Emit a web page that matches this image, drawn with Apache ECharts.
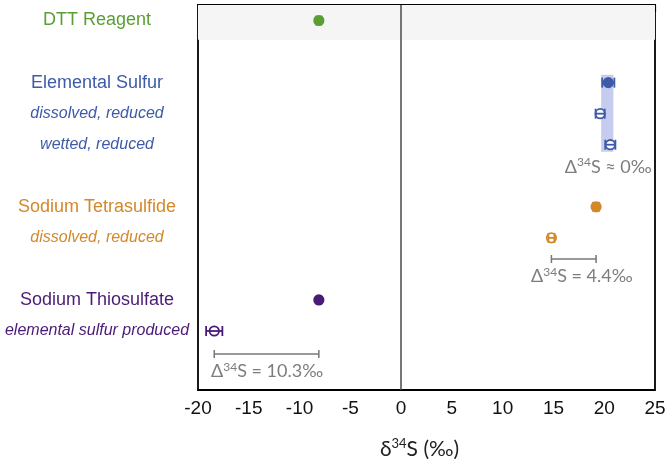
<!DOCTYPE html>
<html><head><meta charset="utf-8">
<script src="https://cdn.jsdelivr.net/npm/echarts@6/dist/echarts.min.js"></script>
<style>html,body{margin:0;padding:0;background:#fff}#c{width:668px;height:459px}</style>
</head><body><div id="c"></div>
<script>
// ---- data ----
const rowLabels = ['DTT Reagent','Elemental Sulfur','dissolved, reduced','wetted, reduced','Sodium Tetrasulfide','dissolved, reduced','Sodium Thiosulfate','elemental sulfur produced'];
const rowPos = [0.5, 2.5, 3.5, 4.5, 6.5, 7.5, 9.5, 10.5];
const rowIsSub = [0, 0, 1, 1, 0, 1, 0, 1];
const rowGroup = [0, 1, 1, 1, 2, 2, 3, 3];
const d34S = [-8.1, 20.4, 19.6, 20.6, 19.2, 14.8, -8.1, -18.4];
const d34SErr = [0.25, 0.6, 0.45, 0.5, 0.3, 0.3, 0.2, 0.8];
const markerFilled = [1, 1, 0, 0, 1, 0, 1, 0];
const groupColors = ['#5a9e34', '#3e5ba9', '#d2892b', '#4a1b76'];
// difference brackets
const bracketFrom = [14.8, -18.4];
const bracketTo = [19.2, -8.1];
const bracketRow = [8.18, 11.24];
// annotation notes
const noteText = ['≈ 0‰', '= 4.4‰', '= 10.3‰'];
const noteX = [20.4, 17.8, -13.2];
const noteRow = [5.22, 8.75, 11.8];
// shaded ranges
const elemBand = [[19.7, 2.25], [20.9, 4.73]];
const dttBand = [[-20, 0], [25, 1.12]];
const xMin = -20, xMax = 25, xStep = 5;

const chart = echarts.init(document.getElementById('c'), null, {renderer: 'canvas'});

const markerData = d34S.map((v, i) => [v, rowPos[i], d34SErr[i], markerFilled[i], rowGroup[i]]);
const labelData = rowLabels.map((t, i) => [xMin, rowPos[i], i]);
const bracketData = bracketFrom.map((v, i) => [v, bracketTo[i], bracketRow[i]]);
const noteData = noteText.map((t, i) => [noteX[i], noteRow[i], i]);

chart.setOption({
  animation: false,
  grid: {left: 198, right: 13, top: 5, bottom: 69, show: true, borderColor: '#000', borderWidth: 1.8,
    backgroundColor: 'transparent', containLabel: false, outerBoundsMode: 'none'},
  xAxis: {
    type: 'value', min: xMin, max: xMax, interval: xStep,
    name: '{d|δ}{s|34}{d|S (‰)}', nameLocation: 'middle', nameGap: 47,
    nameTextStyle: {padding: [0, 14, 0, 0], rich: {
      d: {fontFamily: 'Lato', fontSize: 21, color: '#222', lineHeight: 24},
      s: {fontFamily: 'Lato', fontSize: 13, color: '#222', lineHeight: 14, verticalAlign: 'top'}
    }},
    axisLine: {lineStyle: {color: '#000', width: 1.8}},
    axisTick: {length: 7, lineStyle: {color: '#000', width: 1.2}},
    minorTick: {show: true, splitNumber: 5, length: 4, lineStyle: {color: '#000', width: 1}},
    splitLine: {show: false}, minorSplitLine: {show: false},
    axisLabel: {fontFamily: 'Liberation Sans', fontSize: 19, color: '#111', margin: 9}
  },
  yAxis: {type: 'value', inverse: true, min: 0, max: 12.4, show: false, splitLine: {show: false}},
  series: [
    {
      type: 'scatter', data: [[0, 0]], symbolSize: 0, silent: true, z: 1,
      markArea: {silent: true, data: [
        [{coord: dttBand[0], itemStyle: {color: '#f5f5f5'}}, {coord: dttBand[1]}],
        [{coord: elemBand[0], itemStyle: {color: 'rgba(160,170,225,0.6)'}}, {coord: elemBand[1]}]
      ]},
      markLine: {silent: true, symbol: 'none', label: {show: false},
        lineStyle: {color: '#4a4a4a', width: 1.5, type: 'solid'}, data: [{xAxis: 0}]}
    },
    {
      type: 'custom', data: markerData, z: 5, clip: false,
      renderItem: function (params, api) {
        const x = api.value(0), y = api.value(1), e = api.value(2), f = api.value(3), g = api.value(4);
        const c = api.coord([x, y]), lo = api.coord([x - e, y]), hi = api.coord([x + e, y]);
        const col = groupColors[g], h = 5, r = 4.7, lw = 1.8;
        return {type: 'group', children: [
          {type: 'circle', shape: {cx: c[0], cy: c[1], r: r}, style: {fill: f ? col : '#fff', stroke: col, lineWidth: lw}},
          {type: 'line', shape: {x1: lo[0], y1: c[1], x2: hi[0], y2: c[1]}, style: {stroke: col, lineWidth: lw}},
          {type: 'line', shape: {x1: lo[0], y1: c[1] - h, x2: lo[0], y2: c[1] + h}, style: {stroke: col, lineWidth: lw}},
          {type: 'line', shape: {x1: hi[0], y1: c[1] - h, x2: hi[0], y2: c[1] + h}, style: {stroke: col, lineWidth: lw}}
        ]};
      }
    },
    {
      type: 'custom', data: bracketData, z: 4, clip: false,
      renderItem: function (params, api) {
        const a = api.coord([api.value(0), api.value(2)]), b = api.coord([api.value(1), api.value(2)]);
        const col = '#777', h = 4, lw = 1.5;
        return {type: 'group', children: [
          {type: 'line', shape: {x1: a[0], y1: a[1], x2: b[0], y2: b[1]}, style: {stroke: col, lineWidth: lw}},
          {type: 'line', shape: {x1: a[0], y1: a[1] - h, x2: a[0], y2: a[1] + h}, style: {stroke: col, lineWidth: lw}},
          {type: 'line', shape: {x1: b[0], y1: b[1] - h, x2: b[0], y2: b[1] + h}, style: {stroke: col, lineWidth: lw}}
        ]};
      }
    },
    {
      type: 'custom', data: noteData, z: 4, clip: false,
      renderItem: function (params, api) {
        const p = api.coord([api.value(0), api.value(1)]);
        const i = api.value(2);
        return {type: 'text', x: p[0], y: p[1], style: {
          text: '{d|Δ}{s|34}{d|S ' + noteText[i] + '}', align: 'center', verticalAlign: 'middle',
          rich: {
            d: {fontFamily: 'Lato', fontSize: 18, fill: '#7d7d7d', lineHeight: 21},
            s: {fontFamily: 'Lato', fontSize: 12, fill: '#7d7d7d', lineHeight: 14, verticalAlign: 'top'}
          }
        }};
      }
    },
    {
      type: 'custom', data: labelData, z: 4, clip: false,
      renderItem: function (params, api) {
        const i = api.value(2);
        const p = api.coord([api.value(0), api.value(1)]);
        const sub = rowIsSub[i];
        return {type: 'text', x: p[0] - 101, y: p[1], style: {
          text: rowLabels[i], align: 'center', verticalAlign: 'middle',
          fontFamily: 'Liberation Sans', fontSize: sub ? 16 : 18, fontStyle: sub ? 'italic' : 'normal',
          fill: groupColors[rowGroup[i]]
        }};
      }
    }
  ]
});
</script></body></html>
